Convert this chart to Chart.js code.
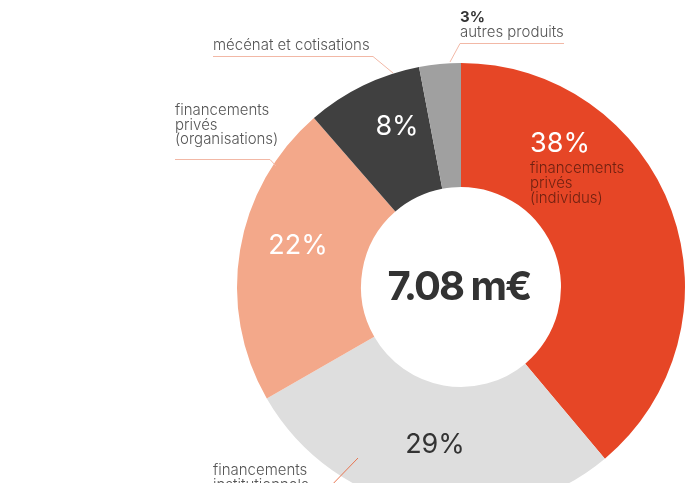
<!DOCTYPE html>
<html>
<head>
<meta charset="utf-8">
<script src="https://cdn.jsdelivr.net/npm/chart.js@4"></script>
<style>
  html, body { margin: 0; padding: 0; background: #fff; overflow: hidden; }
  #wrap { width: 694px; height: 483px; overflow: hidden; }
</style>
</head>
<body>
<div id="wrap"><canvas id="donut" width="694" height="580"></canvas></div>
<script>
// shares (clockwise from 12 o'clock)
const categories = [
  'financements privés (individus)',
  'financements institutionnels',
  'financements privés (organisations)',
  'mécénat et cotisations',
  'autres produits'
];
const shares = [38.9, 27.8, 21.9, 8.4, 3.0];
const shareLabels = ['38%', '29%', '22%', '8%', '3%'];
const totalLabel = '7.08 m€';
const colors = ['#E64626', '#DEDEDE', '#F3A88A', '#404040', '#A0A0A0'];

const FONT = 'Inter, "Liberation Sans", sans-serif';

// labels drawn on top of the doughnut
const labelPlugin = {
  id: 'labels',
  afterDatasetsDraw(chart) {
    const ctx = chart.ctx;
    const arc = chart.getDatasetMeta(0).data[0];
    const cx = arc.x, cy = arc.y;
    ctx.save();
    ctx.textBaseline = 'alphabetic';

    // percentages inside the ring
    ctx.font = '400 27px ' + FONT;
    ctx.fillStyle = '#fff';
    ctx.textAlign = 'left';
    ctx.fillText(shareLabels[0], cx + 69, cy - 135);
    ctx.textAlign = 'center';
    ctx.fillText(shareLabels[2], cx - 163, cy - 33);
    ctx.fillText(shareLabels[3], cx - 64, cy - 152);
    ctx.fillStyle = '#333';
    ctx.fillText(shareLabels[1], cx - 26, cy + 166);

    // sub label inside the red slice
    ctx.textAlign = 'left';
    ctx.font = '300 15px ' + FONT;
    ctx.fillStyle = 'rgba(70, 20, 10, 0.75)';
    ['financements', 'privés', '(individus)'].forEach((t, i) => {
      ctx.fillText(t, cx + 69, cy - 114 + i * 15);
    });

    // outside labels with leader lines
    ctx.fillStyle = '#555';
    ctx.fillText(categories[3], 213, 50);
    ['financements', 'privés', '(organisations)'].forEach((t, i) => {
      ctx.fillText(t, 175, 115 + i * 14.5);
    });
    ctx.fillText('autres produits', 460, 37);
    ['financements', 'institutionnels'].forEach((t, i) => {
      ctx.fillText(t, 213, 475 + i * 15);
    });
    ctx.font = '700 15px ' + FONT;
    ctx.fillStyle = '#333';
    ctx.fillText(shareLabels[4], 460, 22);

    ctx.lineWidth = 1;
    ctx.strokeStyle = '#F2B8A6';
    ctx.beginPath();
    ctx.moveTo(213, 56.5); ctx.lineTo(373, 56.5); ctx.lineTo(393, 73);
    ctx.moveTo(175, 159.5); ctx.lineTo(270, 159.5); ctx.lineTo(276, 166);
    ctx.moveTo(564, 43.5); ctx.lineTo(460, 43.5); ctx.lineTo(450, 62);
    ctx.stroke();
    ctx.strokeStyle = '#E8744F';
    ctx.beginPath();
    ctx.moveTo(358, 458); ctx.lineTo(325, 492);
    ctx.stroke();

    // total in the hole
    ctx.textAlign = 'center';
    ctx.font = '700 40px ' + FONT;
    ctx.letterSpacing = '-2px';
    ctx.fillStyle = '#333';
    ctx.fillText(totalLabel, cx - 2, cy + 13);
    ctx.restore();
  }
};

new Chart(document.getElementById('donut'), {
  type: 'doughnut',
  data: {
    labels: categories,
    datasets: [{
      data: shares,
      backgroundColor: colors,
      borderWidth: 0,
      hoverOffset: 0
    }]
  },
  options: {
    responsive: false,
    animation: false,
    cutout: 100,
    layout: { padding: { left: 237, right: 9, top: 63, bottom: 69 } },
    plugins: {
      legend: { display: false },
      tooltip: { enabled: false }
    }
  },
  plugins: [labelPlugin]
});
</script>
</body>
</html>
